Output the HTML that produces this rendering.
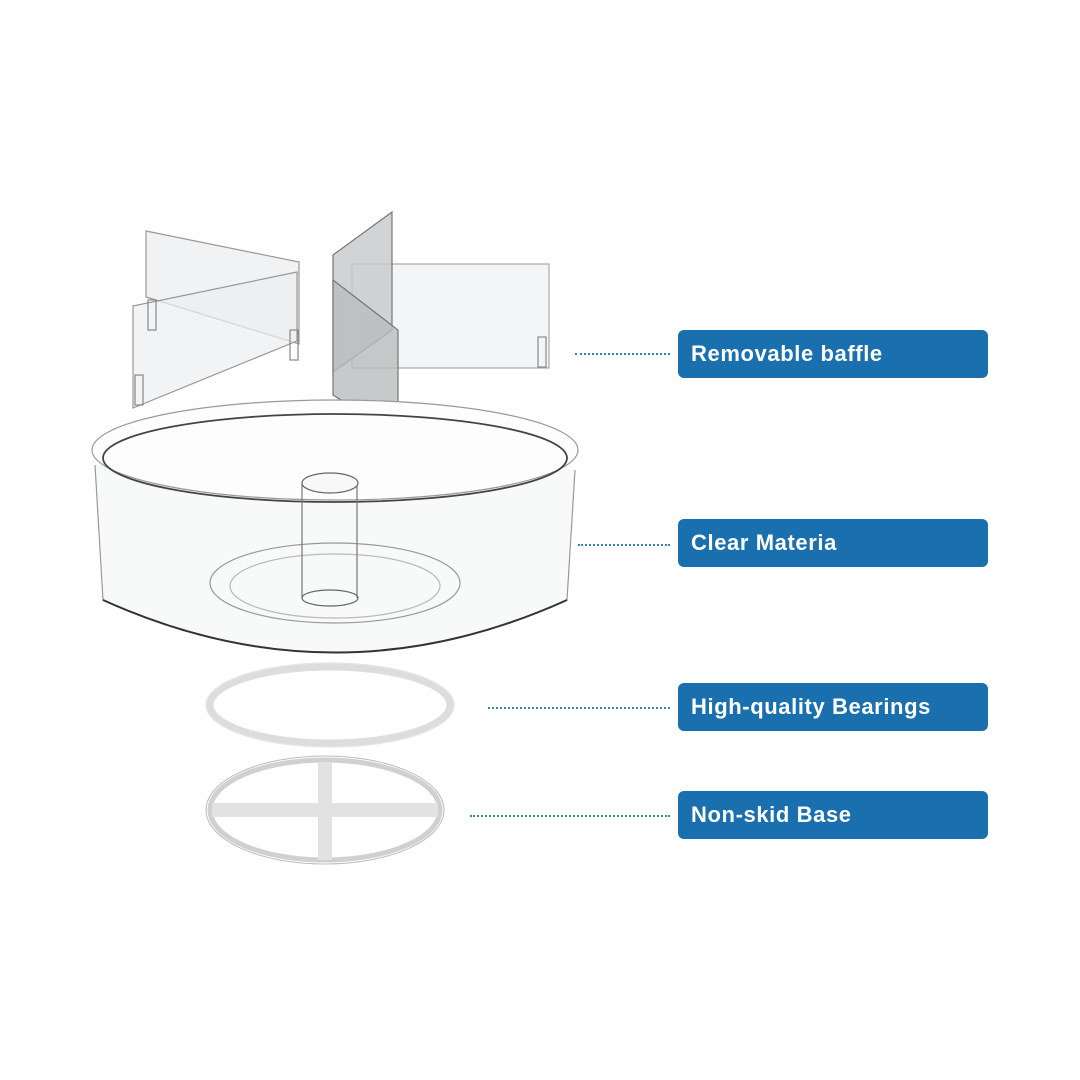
<html><head><style>
body{margin:0;background:#fff;width:1080px;height:1080px;overflow:hidden;position:relative;font-family:"Liberation Sans",sans-serif}
.b{position:absolute;left:678px;width:310px;height:48px;background:#1a6fae;border-radius:6px;color:#fff;font-weight:bold;font-size:22px;line-height:48px;box-sizing:border-box;padding-left:13px;letter-spacing:0.6px}
.d{position:absolute;height:0;border-top:2px dotted #3a7fb8}
</style></head><body>
<svg width="1080" height="1080" style="position:absolute;left:0;top:0">
<g fill="none" stroke="#888" stroke-width="1.2">
<polygon points="146,231 299,262 299,344 146,297" fill="#f1f2f3" stroke="#999"/>
<polygon points="133,306 297,272 297,341 133,408" fill="#eceef0" fill-opacity="0.7" stroke="#999"/>
<rect x="148" y="300" width="8" height="30"/><rect x="290" y="330" width="8" height="30"/><rect x="135" y="375" width="8" height="30"/>
<polygon points="352,264 549,264 549,368 352,368" fill="#f4f5f6" stroke="#aaa"/>
<polygon points="333,255 392,212 392,330 333,372" fill="#c9cbcd" fill-opacity="0.85" stroke="#777"/>
<polygon points="333,280 398,330 398,435 333,395" fill="#b9bbbd" fill-opacity="0.8" stroke="#777"/>
<rect x="538" y="337" width="8" height="30"/>
<path d="M95,465 L103,600 Q335,705 567,600 L575,470" fill="#f8f9f9" stroke="#999"/>
<ellipse cx="335" cy="450" rx="243" ry="50" fill="#fdfdfd" stroke="#999"/>
<ellipse cx="335" cy="458" rx="232" ry="44" stroke="#444" stroke-width="1.8"/>
<path d="M103,600 Q335,705 567,600" stroke="#333" stroke-width="2"/>
<ellipse cx="335" cy="583" rx="125" ry="40" stroke="#999"/>
<ellipse cx="335" cy="586" rx="105" ry="32" stroke="#bbb"/>
<path d="M302,483 L302,598 M357,483 L357,598" stroke="#777"/>
<ellipse cx="330" cy="483" rx="28" ry="10" fill="#f8f8f8" stroke="#666"/>
<ellipse cx="330" cy="598" rx="28" ry="8" stroke="#666"/>
<ellipse cx="330" cy="705" rx="120" ry="38" stroke="#ddd" stroke-width="7"/>
<ellipse cx="330" cy="705" rx="124" ry="42" stroke="#e4e4e4"/>
<ellipse cx="325" cy="810" rx="115" ry="50" stroke="#d0d0d0" stroke-width="5"/>
<ellipse cx="325" cy="810" rx="119" ry="54" stroke="#bbb" stroke-width="1"/>
<path d="M212,810 L438,810 M325,762 L325,860" stroke="#e2e2e2" stroke-width="14"/>
</g>
</svg>
<div class="d" style="left:575px;width:95px;top:353px"></div>
<div class="d" style="left:578px;width:92px;top:544px"></div>
<div class="d" style="left:488px;width:182px;top:707px"></div>
<div class="d" style="left:470px;width:200px;top:815px"></div>
<div class="b" style="top:330px">Removable baffle</div>
<div class="b" style="top:519px">Clear Materia</div>
<div class="b" style="top:683px">High-quality Bearings</div>
<div class="b" style="top:791px">Non-skid Base</div>
</body></html>
